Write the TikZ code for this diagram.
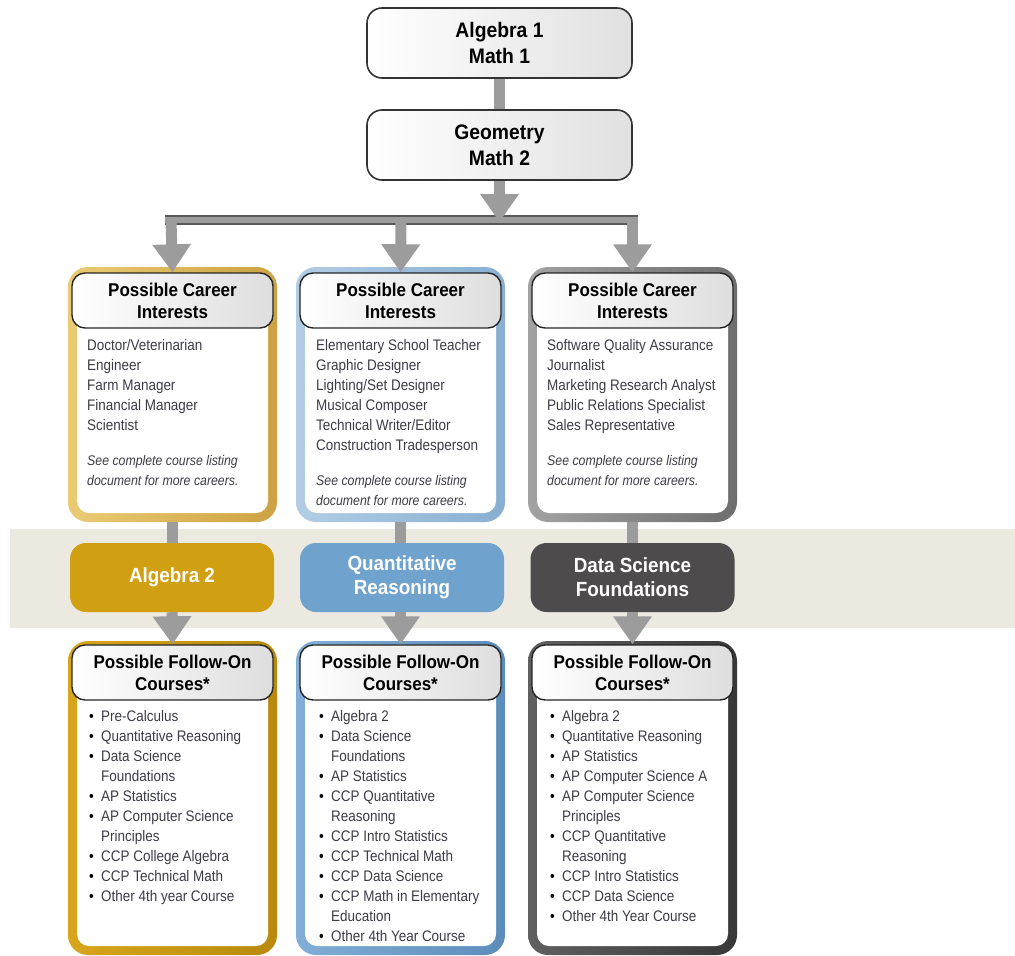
\documentclass[tikz,border=0pt]{standalone}
\usepackage{fontspec}
\setmainfont{Liberation Sans}[FakeStretch=0.88]
\newfontfamily\headfont{Liberation Sans}[FakeStretch=0.92]
\usetikzlibrary{arrows.meta,positioning}

\definecolor{goldlt}{HTML}{EACB74}
\definecolor{golddk}{HTML}{CCA243}
\definecolor{goldfr}{HTML}{D8A61C}
\definecolor{goldfrdk}{HTML}{B8890C}
\definecolor{bluelt}{HTML}{B2CDE4}
\definecolor{bluedk}{HTML}{88AFD1}
\definecolor{bluefr}{HTML}{80AED6}
\definecolor{bluefrdk}{HTML}{5C8CBA}
\definecolor{greylt}{HTML}{A2A2A2}
\definecolor{greydk}{HTML}{6E6E6E}
\definecolor{greyfr}{HTML}{606060}
\definecolor{greyfrdk}{HTML}{383838}
\definecolor{algtwo}{HTML}{D19F12}
\definecolor{quant}{HTML}{6FA3CD}
\definecolor{dsf}{HTML}{4D4B4C}
\definecolor{band}{HTML}{ECE9E1}
\definecolor{conn}{HTML}{9C9C9C}
\definecolor{listtxt}{HTML}{3C3C46}

\newcommand\itm{\par\spaceskip=0pt\xspaceskip=0pt\hangindent=12pt\hangafter=1\noindent
  \makebox[12pt][l]{\textcolor{black}{\textbullet}}}

\tikzset{
  course/.style={draw=black!80, line width=1.6pt, rounded corners=15pt,
    left color=white, right color=black!12, minimum width=265pt,
    minimum height=70pt, inner sep=0pt, align=center,
    font=\headfont\bfseries\fontsize{21}{26}\selectfont},
  head/.style={draw=black!85, line width=1.4pt, rounded corners=13pt,
    left color=white, right color=black!13, minimum width=201pt,
    minimum height=55pt, inner sep=0pt, align=center,
    font=\headfont\bfseries\fontsize{18.5}{22}\selectfont},
  frame/.style={rounded corners=20pt, minimum width=209pt, inner sep=0pt},
  inner/.style={fill=white, rounded corners=12pt, minimum width=191pt, inner sep=0pt},
  mathbox/.style={rounded corners=16pt, minimum width=204pt, minimum height=69pt,
    inner sep=0pt, text=white, align=center,
    font=\headfont\bfseries\fontsize{20.5}{24}\selectfont},
  list/.style={anchor=north west, inner sep=0pt, align=left, text=listtxt,
    font=\fontsize{15.3}{20}\selectfont},
  note/.style={list, font=\itshape\fontsize{14}{20}\selectfont},
  items/.style={list, text width=185pt},
  conn/.style={draw=conn, line width=11pt},
  arr/.style={conn, -{Triangle[width=37pt,length=28pt]}},
  bar/.style={draw=black!65, line width=1.8pt, double=conn, double distance=6.5pt}
}

\begin{document}
\begin{tikzpicture}[x=1pt,y=-1pt]
  \useasboundingbox (0,0) rectangle (1015,956);
  \fill[band] (10,529) rectangle (1015,628);

  % core courses
  \node[course] (alg1) at (499.5,43) {Algebra 1\\Math 1};
  \node[course] (geo) at (499.5,145) {Geometry\\Math 2};

  % career interest boxes
  \node[frame, minimum height=255pt, left color=goldlt, right color=golddk] (cf1) at (172.5,394.5) {};
  \node[frame, minimum height=255pt, left color=bluelt, right color=bluedk] (cf2) at (400.5,394.5) {};
  \node[frame, minimum height=255pt, left color=greylt, right color=greydk] (cf3) at (632.5,394.5) {};
  \node[inner, minimum height=237pt] (ci1) at (cf1) {};
  \node[inner, minimum height=237pt] (ci2) at (cf2) {};
  \node[inner, minimum height=237pt] (ci3) at (cf3) {};
  \node[head] (ch1) at (172.5,300.5) {Possible Career\\Interests};
  \node[head] (ch2) at (400.5,300.5) {Possible Career\\Interests};
  \node[head] (ch3) at (632.5,300.5) {Possible Career\\Interests};

  \node[list] (cl1) at (87,339) {Doctor/Veterinarian\\Engineer\\Farm Manager\\Financial Manager\\Scientist};
  \node[list] (cl2) at (316,339) {Elementary School Teacher\\Graphic Designer\\Lighting/Set Designer\\Musical Composer\\Technical Writer/Editor\\Construction Tradesperson};
  \node[list] (cl3) at (547,339) {Software Quality Assurance\\Journalist\\Marketing Research Analyst\\Public Relations Specialist\\Sales Representative};
  \node[note] (cn1) at (87,455) {See complete course listing\\document for more careers.};
  \node[note] (cn2) at (316,475) {See complete course listing\\document for more careers.};
  \node[note] (cn3) at (547,455) {See complete course listing\\document for more careers.};

  % fourth year options
  \node[mathbox, fill=algtwo] (mb1) at (172,577.5) {Algebra 2};
  \node[mathbox, fill=quant] (mb2) at (402,577.5) {Quantitative\\Reasoning};
  \node[mathbox, fill=dsf] (mb3) at (632.5,577.5) {Data Science\\Foundations};

  % follow-on boxes
  \node[frame, minimum height=314pt, left color=goldfr, right color=goldfrdk] (ff1) at (172.5,798) {};
  \node[frame, minimum height=314pt, left color=bluefr, right color=bluefrdk] (ff2) at (400.5,798) {};
  \node[frame, minimum height=314pt, left color=greyfr, right color=greyfrdk] (ff3) at (632.5,798) {};
  \node[inner, minimum height=296pt] (fi1) at (ff1) {};
  \node[inner, minimum height=296pt] (fi2) at (ff2) {};
  \node[inner, minimum height=296pt] (fi3) at (ff3) {};
  \node[head] (fh1) at (172.5,672.5) {Possible Follow-On\\Courses*};
  \node[head] (fh2) at (400.5,672.5) {Possible Follow-On\\Courses*};
  \node[head] (fh3) at (632.5,672.5) {Possible Follow-On\\Courses*};

  \node[items] (fl1) at (89,701) {\itm Pre-Calculus\itm Quantitative Reasoning\itm Data Science\newline Foundations
    \itm AP Statistics\itm AP Computer Science\newline Principles\itm CCP College Algebra
    \itm CCP Technical Math\itm Other 4th year Course};
  \node[items] (fl2) at (319,701) {\itm Algebra 2\itm Data Science\newline Foundations\itm AP Statistics
    \itm CCP Quantitative\newline Reasoning\itm CCP Intro Statistics\itm CCP Technical Math
    \itm CCP Data Science\itm CCP Math in Elementary\newline Education\itm Other 4th Year Course};
  \node[items] (fl3) at (550,701) {\itm Algebra 2\itm Quantitative Reasoning\itm AP Statistics
    \itm AP Computer Science A\itm AP Computer Science\newline Principles\itm CCP Quantitative\newline Reasoning
    \itm CCP Intro Statistics\itm CCP Data Science\itm Other 4th Year Course};

  % connectors
  \coordinate (bl) at (165,220);
  \coordinate (br) at (638,220);
  \coordinate (split) at (499.5,222);
  \coordinate (d1) at (171,220);
  \coordinate (d2) at (401,220);
  \coordinate (d3) at (632.5,220);

  \draw[conn] (alg1.south) -- (geo.north);
  \draw[bar] (bl) -- (br);
  \draw[arr] (geo.south) -- (split);
  \draw[arr] (d1) -- (ch1.north);
  \draw[arr] (d2) -- (ch2.north);
  \draw[arr] (d3) -- (ch3.north);

  \draw[conn] (cf1.south) -- (cf1.south |- mb1.north);
  \draw[conn] (cf2.south) -- (cf2.south |- mb2.north);
  \draw[conn] (cf3.south) -- (cf3.south |- mb3.north);
  \draw[arr] (mb1.south) -- (fh1.north);
  \draw[arr] (mb2.south -| fh2.north) -- (fh2.north);
  \draw[arr] (mb3.south) -- (fh3.north);
\end{tikzpicture}
\end{document}
